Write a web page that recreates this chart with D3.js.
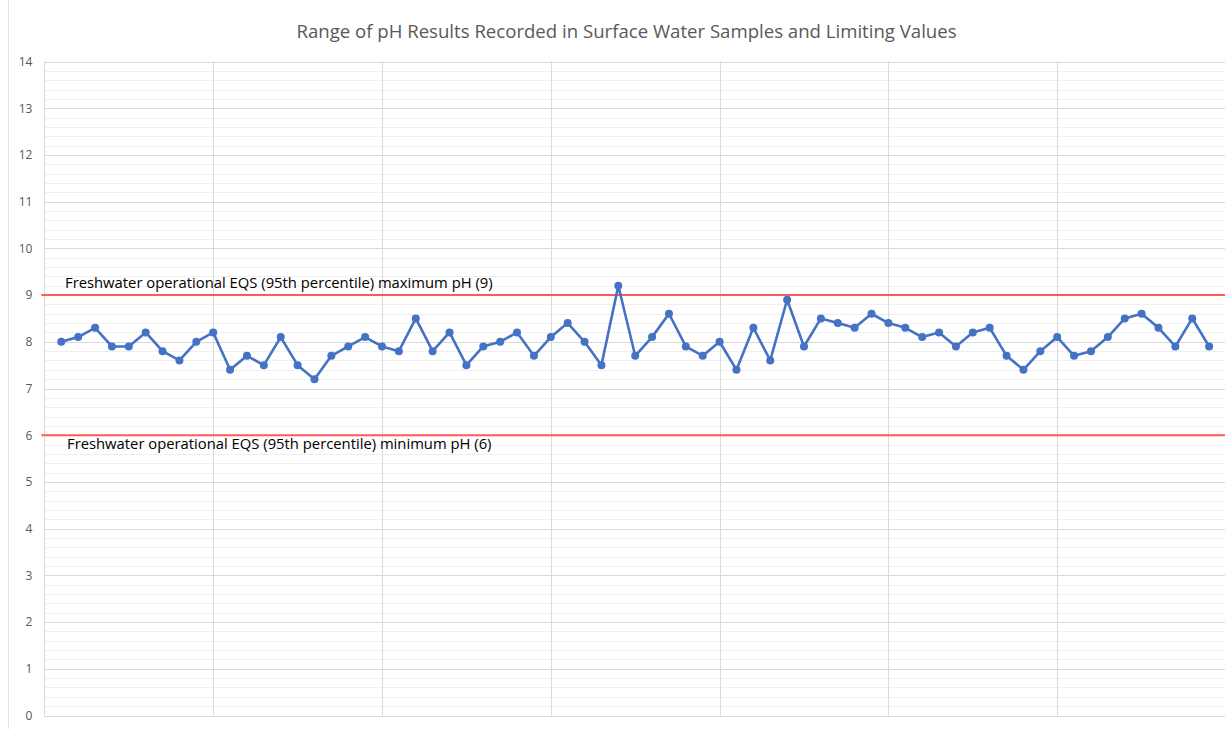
<!DOCTYPE html>
<html><head><meta charset="utf-8">
<script src="https://cdn.jsdelivr.net/npm/d3@7"></script>
<style>body{margin:0;background:#fff;}svg{display:block;}</style>
</head><body>
<svg id="c" width="1225" height="729"></svg>
<script>
const title = "Range of pH Results Recorded in Surface Water Samples and Limiting Values";
const sampleIndex = d3.range(1, 70);
const phValues = [
 8.0, 8.1, 8.3, 7.9, 7.9, 8.2, 7.8, 7.6, 8.0, 8.2,
 7.4, 7.7, 7.5, 8.1, 7.5, 7.2, 7.7, 7.9, 8.1, 7.9,
 7.8, 8.5, 7.8, 8.2, 7.5, 7.9, 8.0, 8.2, 7.7, 8.1,
 8.4, 8.0, 7.5, 9.2, 7.7, 8.1, 8.6, 7.9, 7.7, 8.0,
 7.4, 8.3, 7.6, 8.9, 7.9, 8.5, 8.4, 8.3, 8.6, 8.4,
 8.3, 8.1, 8.2, 7.9, 8.2, 8.3, 7.7, 7.4, 7.8, 8.1,
 7.7, 7.8, 8.1, 8.5, 8.6, 8.3, 7.9, 8.5, 7.9
];
const limitValues = [9, 6];
const limitLabels = [
 "Freshwater operational EQS (95th percentile) maximum pH (9)",
 "Freshwater operational EQS (95th percentile) minimum pH (6)"
];
const yTicks = d3.range(0, 15);
const xTicks = d3.range(0, 71, 10);

const svg = d3.select("#c");
const pL = 44.4, pR = 1226, pT = 61.5, pB = 715.5;
const x = d3.scaleLinear().domain([0, 70]).range([pL, pR]);
const y = d3.scaleLinear().domain([0, 14]).range([pB, pT]);
const font = "Open Sans, sans-serif";

// outer chart border hint
svg.append("line").attr("x1", 8.5).attr("x2", 8.5).attr("y1", 0).attr("y2", 729)
  .attr("stroke", "#e4e4e4").attr("stroke-width", 1);

// minor gridlines
const minor = d3.range(0, 14.001, 0.2).filter(v => Math.abs(v - Math.round(v)) > 1e-6);
svg.append("g").selectAll("line").data(minor).join("line")
  .attr("x1", pL).attr("x2", pR)
  .attr("y1", d => Math.round(y(d)) + 0.5).attr("y2", d => Math.round(y(d)) + 0.5)
  .attr("stroke", "#efefef").attr("stroke-width", 1);

// major horizontal gridlines
svg.append("g").selectAll("line").data(yTicks).join("line")
  .attr("x1", pL).attr("x2", pR)
  .attr("y1", d => Math.round(y(d)) + 0.5).attr("y2", d => Math.round(y(d)) + 0.5)
  .attr("stroke", "#d9d9d9").attr("stroke-width", 1);

// vertical gridlines
svg.append("g").selectAll("line").data(xTicks).join("line")
  .attr("x1", d => Math.round(x(d)) + 0.5).attr("x2", d => Math.round(x(d)) + 0.5)
  .attr("y1", pT).attr("y2", pB)
  .attr("stroke", "#d9d9d9").attr("stroke-width", 1);

// y axis labels
const yAxis = d3.axisLeft(y).tickValues(yTicks).tickSize(0).tickPadding(12);
const ga = svg.append("g").attr("transform", `translate(${pL},0)`).call(yAxis);
ga.select(".domain").remove();
ga.selectAll("text").attr("font-family", font).attr("font-size", 12).attr("fill", "#595959");

// limit lines
svg.append("g").selectAll("line").data(limitValues).join("line")
  .attr("x1", pL - 3).attr("x2", pR)
  .attr("y1", d => y(d)).attr("y2", d => y(d))
  .attr("stroke", "#ff5a5a").attr("stroke-width", 2);

// limit labels
svg.append("text").attr("x", 65).attr("y", y(limitValues[0]) - 7)
  .attr("font-family", font).attr("font-size", 14.8).attr("fill", "#000")
  .text(limitLabels[0]);
svg.append("text").attr("x", 67).attr("y", y(limitValues[1]) + 13.5)
  .attr("font-family", font).attr("font-size", 14.8).attr("fill", "#000")
  .text(limitLabels[1]);

// series line
const line = d3.line().x((d, i) => x(sampleIndex[i])).y(d => y(d));
svg.append("path").datum(phValues).attr("d", line)
  .attr("fill", "none").attr("stroke", "#4472c4").attr("stroke-width", 2.6).attr("stroke-linejoin", "round");
svg.append("g").selectAll("circle").data(phValues).join("circle")
  .attr("cx", (d, i) => x(sampleIndex[i])).attr("cy", d => y(d)).attr("r", 4)
  .attr("fill", "#4472c4");

// title
svg.append("text").attr("x", 626.5).attr("y", 38).attr("text-anchor", "middle")
  .attr("font-family", font).attr("font-size", 18.6).attr("fill", "#595959")
  .text(title);
</script>
</body></html>
